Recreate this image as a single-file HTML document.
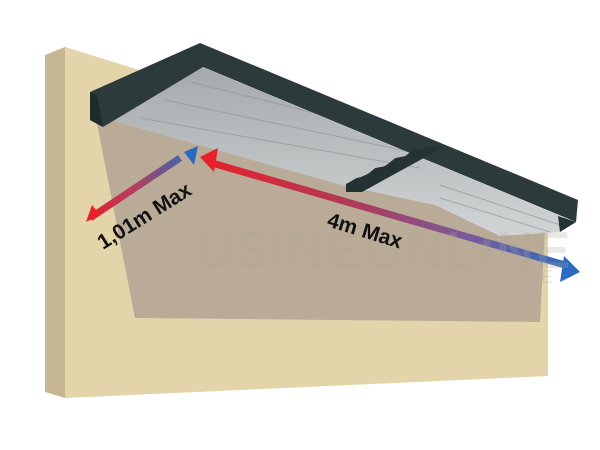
<!DOCTYPE html><html><head><style>body{margin:0;background:#fff}svg{display:block}</style></head><body>
<svg width="600" height="450" viewBox="0 0 600 450" xmlns="http://www.w3.org/2000/svg">
<defs>
<linearGradient id="g1" x1="88" y1="218" x2="195" y2="150" gradientUnits="userSpaceOnUse"><stop offset="0" stop-color="#e8202a"/><stop offset="0.45" stop-color="#b04060"/><stop offset="1" stop-color="#2a6ac0"/></linearGradient>
<linearGradient id="g2" x1="200" y1="158" x2="578" y2="272" gradientUnits="userSpaceOnUse"><stop offset="0" stop-color="#e8202a"/><stop offset="0.4" stop-color="#b03a58"/><stop offset="0.7" stop-color="#7a5a9a"/><stop offset="1" stop-color="#2a6ac0"/></linearGradient>
<linearGradient id="lv" x1="0" y1="0" x2="0" y2="1"><stop offset="0" stop-color="#a4a9ab"/><stop offset="1" stop-color="#d2d5d6"/></linearGradient>
</defs>
<polygon points="45,55 65,47 65,398 45,392" fill="#c6b694"/>
<polygon points="65,47 220,95 548,228 548,376 65,398" fill="#e3d4a9"/>
<polygon points="92,98 135,318 540,322 545,228 200,80" fill="#b9ab97"/>
<polygon points="110,120 200,66 575,222 560,232 500,236 435,205 345,186" fill="url(#lv)"/>
<g stroke="#8a9094" stroke-width="1" fill="none" opacity="0.6">
<line x1="140" y1="118" x2="420" y2="168"/><line x1="165" y1="100" x2="430" y2="156"/><line x1="190" y1="82" x2="440" y2="144"/>
<line x1="440" y1="185" x2="560" y2="225"/><line x1="440" y1="198" x2="550" y2="232"/>
</g>
<polygon points="90,92 200,43 578,200 576,222 203,67 103,127 90,120" fill="#2c3a3c"/>
<polygon points="90,92 97,95 103,127 90,120" fill="#1f2a2b"/>
<polygon points="428,146 442,148 362,192 346,192 346,184" fill="#253233"/>
<path d="M347,186 L357,180 L366,178 L376,170 L386,168 L396,160 L406,158 L416,150" stroke="#253233" stroke-width="4" fill="none"/>
<polygon points="558,216 576,222 560,232" fill="#253233"/>
<path d="M90,218 L180,158" stroke="url(#g1)" stroke-width="7"/>
<polygon points="86,222 92,205 100,215" fill="#e8202a"/>
<polygon points="198,146 184,152 194,165" fill="#2a6ac0"/>
<path d="M212,163 L565,265" stroke="url(#g2)" stroke-width="7"/>
<polygon points="200,157 218,148 214,172" fill="#e8202a"/>
<polygon points="580,272 564,256 560,282" fill="#2a6ac0"/>
<text x="195" y="268" font-family="Liberation Sans,sans-serif" font-size="52" font-weight="bold" fill="#b0a898" fill-opacity="0.25" letter-spacing="2">USINEONLINE</text>
<text x="445" y="283" font-family="Liberation Sans,sans-serif" font-size="18" fill="#b0a898" fill-opacity="0.3" letter-spacing="6">GROUPE</text>
<text transform="translate(103,250) rotate(-32)" font-family="Liberation Sans,sans-serif" font-size="21" font-weight="bold" fill="#111">1,01m Max</text>
<text transform="translate(326,226) rotate(17)" font-family="Liberation Sans,sans-serif" font-size="21" font-weight="bold" fill="#111">4m Max</text>
</svg>
</body></html>
